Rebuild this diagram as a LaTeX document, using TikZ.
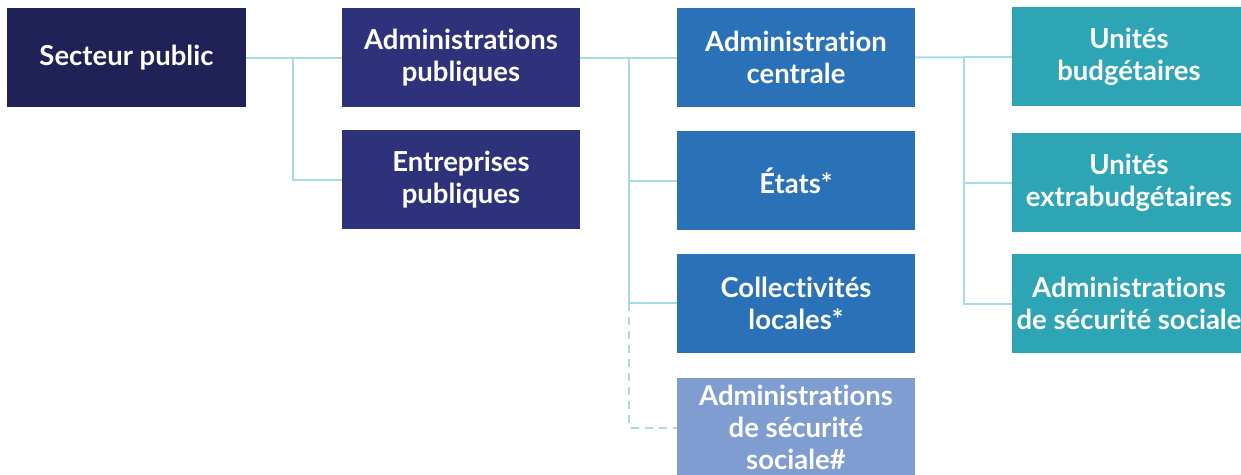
\documentclass[tikz,border=0pt]{standalone}
\usepackage{fontspec}
\setmainfont{Lato}[Ligatures={NoCommon,NoRare,NoContextual}]
\begin{document}
\definecolor{cSP}{HTML}{1F2157}
\definecolor{cAP}{HTML}{2E327B}
\definecolor{cAC}{HTML}{2B71B8}
\definecolor{cSS}{HTML}{7F9DD1}
\definecolor{cTL}{HTML}{2EA5B5}
\definecolor{cLN}{HTML}{A6DDE5}
\begin{tikzpicture}[x=1pt,y=-1pt,
  box/.style={rectangle, inner sep=0pt, minimum height=99pt, text=white,
    align=center, font=\fontsize{27.5}{32}\selectfont\bfseries},
  wbox/.style={box, minimum width=238pt},
  link/.style={draw=cLN, line width=2pt},
  dlink/.style={link, dash pattern=on 8pt off 6pt}]
\useasboundingbox (0,0) rectangle (1241,474);
% level 1
\node[box, minimum width=239pt, fill=cSP] (sp) at (126.5,57.5) {Secteur public};
% level 2
\node[wbox, fill=cAP] (ap) at (461,57.5) {Administrations\\publiques};
\node[wbox, fill=cAP] (ep) at (461,179.5) {Entreprises\\publiques};
% level 3
\node[wbox, fill=cAC] (ac) at (796,57.5) {Administration\\centrale};
\node[wbox, fill=cAC] (et) at (796,180.5) {États*};
\node[wbox, fill=cAC] (cl) at (796,303.5) {Collectivités\\locales*};
\node[wbox, fill=cSS] (ss) at (796,427.5) {Administrations\\de sécurité\\sociale\#};
% level 4
\node[box, minimum width=234pt, fill=cTL] (ub) at (1129,56.5) {Unités\\budgétaires};
\node[box, minimum width=234pt, fill=cTL] (ueb) at (1129,182.5) {Unités\\extrabudgétaires};
\node[box, minimum width=234pt, fill=cTL] (ass) at (1129,303.5) {Administrations\\de sécurité sociale};
% junction points
\coordinate (j1) at (293,57);
\coordinate (j2) at (629,57);
\coordinate (j3) at (964,57);
\coordinate (j2b) at (629,303);
% connectors
\draw[link] (sp.east) -- (ap.west);
\draw[link] (j1) |- (ep.west);
\draw[link] (ap.east) -- (ac.west);
\draw[link] (j2) -- (j2b) -- (cl.west |- j2b);
\draw[link] (j2 |- et.west) -- (et.west);
\draw[dlink] (j2b) |- (ss.west);
\draw[link] (ac.east) -- (ub.west |- j3);
\draw[link] (j3) |- (ueb.west);
\draw[link] (j3) |- (ass.west);
\end{tikzpicture}
\end{document}
